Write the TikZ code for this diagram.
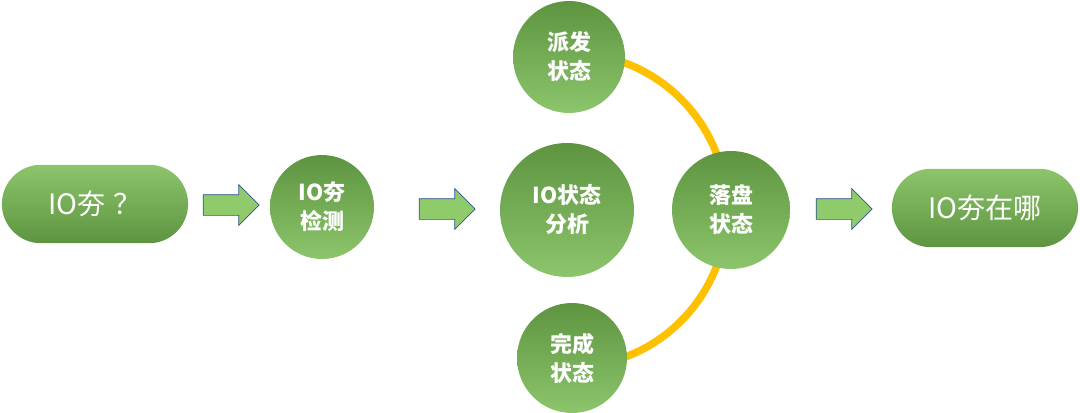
\documentclass[tikz,border=0pt]{standalone}
\usepackage{fontspec}
\usepackage{tikz}
\usetikzlibrary{shapes.arrows, shapes.misc}
\newfontfamily\cjk{Noto Sans CJK SC}
\definecolor{leaflight}{HTML}{8CC56C}
\definecolor{leafdark}{HTML}{5E9440}
\definecolor{arrowfill}{HTML}{8FCB6A}
\definecolor{arrowline}{HTML}{2F528F}
\definecolor{amber}{HTML}{FFC000}

\begin{document}
\begin{tikzpicture}[x=0.02cm, y=-0.02cm,
  pill/.style={rounded rectangle, top color=leaflight, bottom color=leafdark,
               minimum width=3.96cm, minimum height=1.57cm, text=white,
               font=\cjk\fontsize{16pt}{18pt}\selectfont},
  disc/.style={circle, top color=leafdark, bottom color=leaflight, text=white,
               inner sep=0pt, align=center,
               font=\cjk\bfseries\fontsize{12.5pt}{16.5pt}\selectfont},
  blockarrow/.style={single arrow, draw=arrowline, fill=arrowfill, thin,
                     minimum height=1.12cm, inner xsep=0pt, inner ysep=0.2cm,
                     single arrow head extend=0.2cm, single arrow tip angle=90},
  ring/.style={draw=amber, line width=0.15cm}
]
\useasboundingbox (0,0) rectangle (1080,413);

% yellow arc behind the state circles
\draw[ring] (570,210) ++(80:157) arc[start angle=80, end angle=-80, radius=157];

\node[pill] (start)    at (95,204)  {IO夯\hspace{0.3em}？};
\node[pill] (finish)   at (985,208) {IO夯在哪};

\node[disc, minimum size=2.08cm] (detect)   at (322,207) {IO夯\\检测};
\node[disc, minimum size=2.68cm] (analysis) at (567,210) {IO状态\\分析};
\node[disc, minimum size=2.24cm] (dispatch) at (569,57)  {派发\\状态};
\node[disc, minimum size=2.36cm] (flush)    at (731,210) {落盘\\状态};
\node[disc, minimum size=2.2cm]  (complete) at (572,358) {完成\\状态};

\node[blockarrow] (arrowA) at (226,205) {};
\node[blockarrow] (arrowB) at (442,209) {};
\node[blockarrow] (arrowC) at (839,209) {};

\end{tikzpicture}
\end{document}
